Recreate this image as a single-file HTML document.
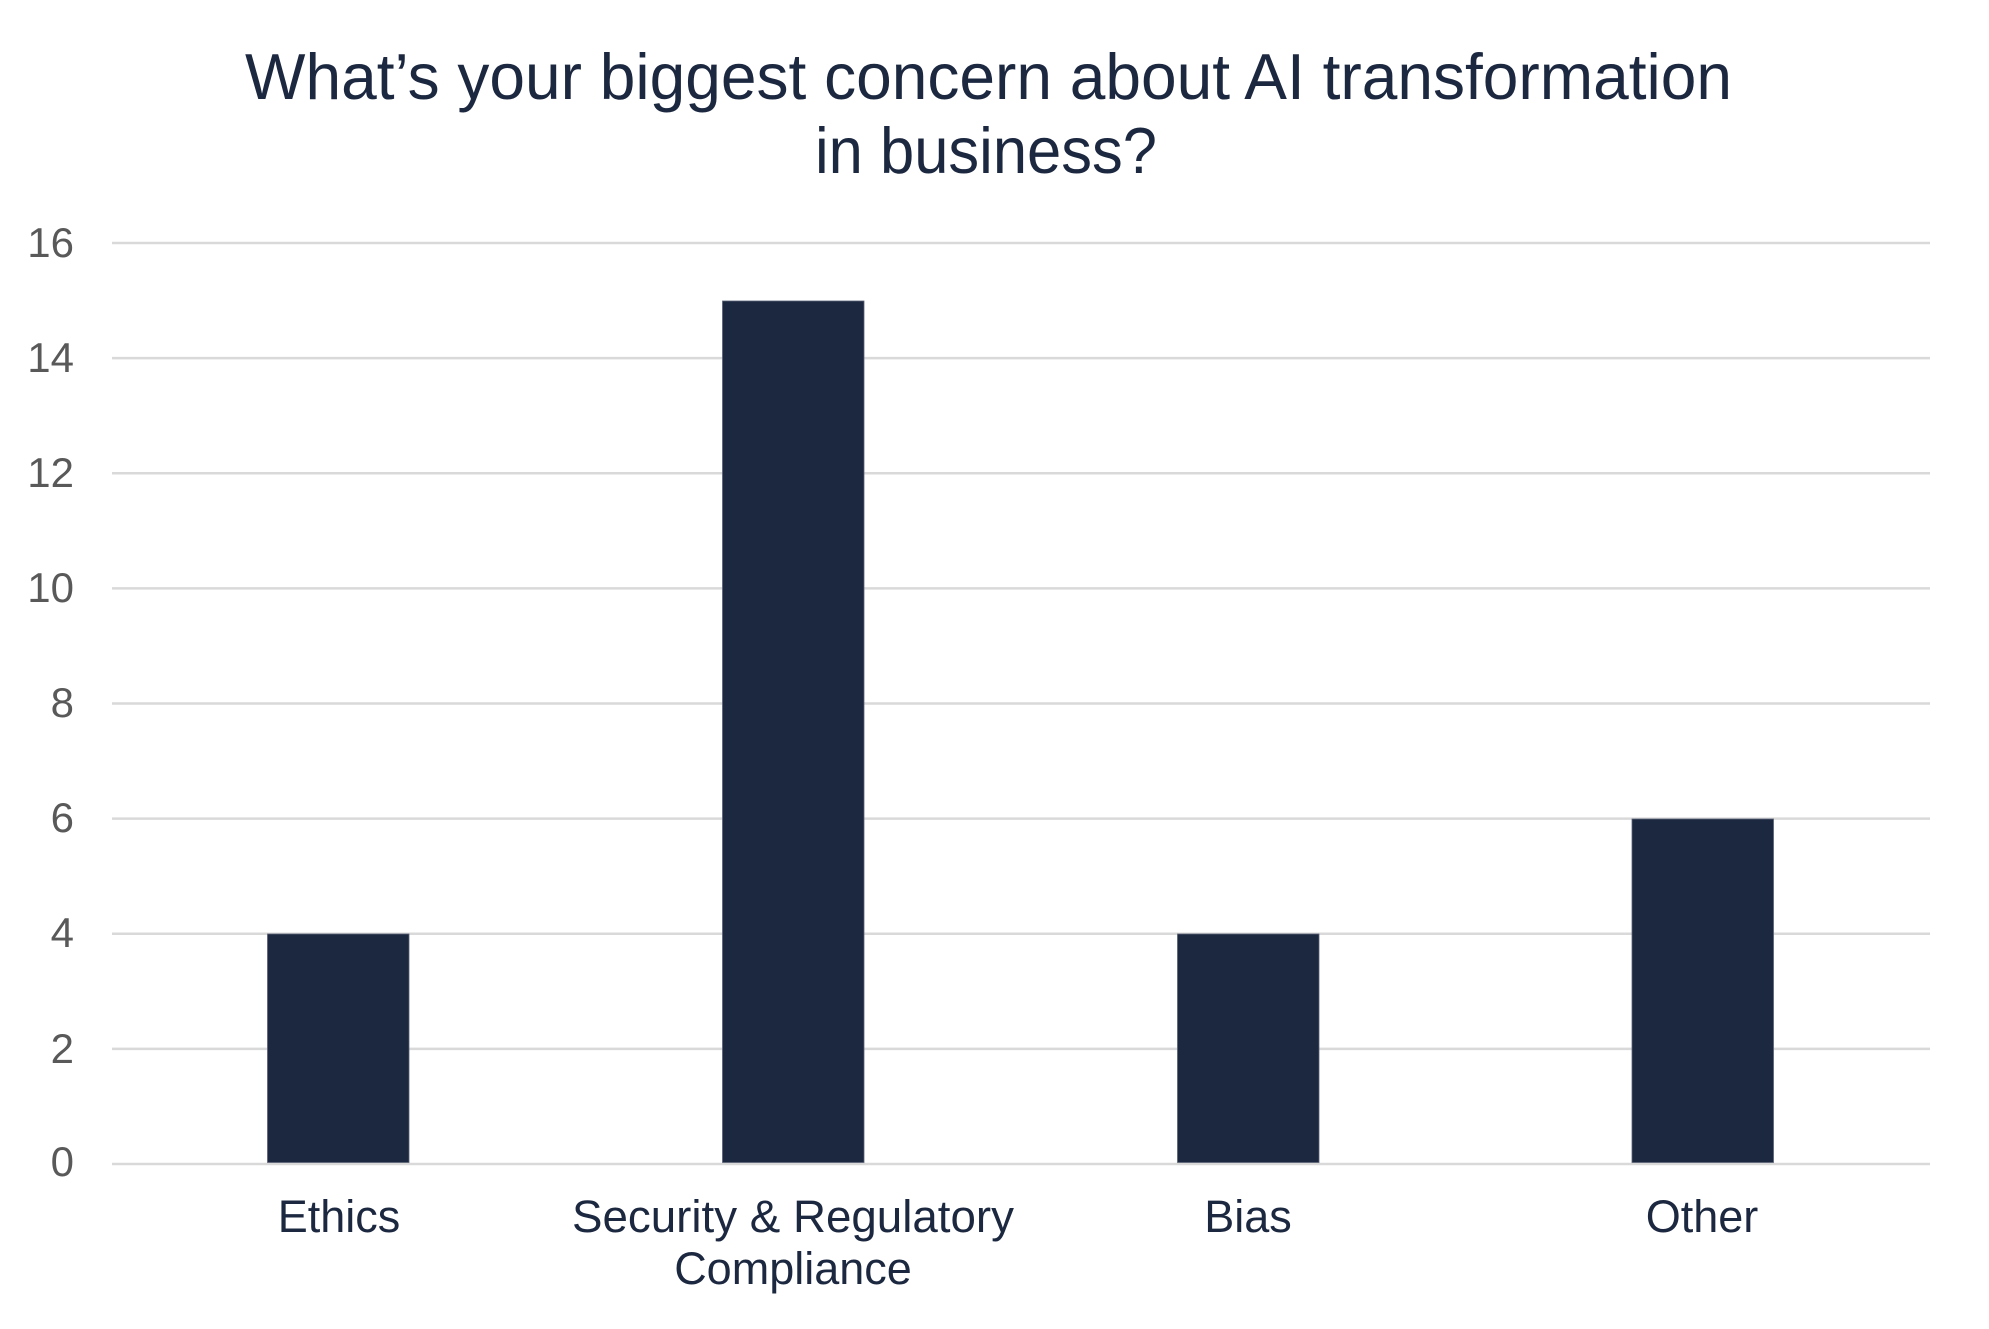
<!DOCTYPE html>
<html>
<head>
<meta charset="utf-8">
<style>
  html, body { margin: 0; padding: 0; background: #ffffff; }
  svg { display: block; }
  text { font-family: "Liberation Sans", Arial, sans-serif; }
</style>
</head>
<body>
<svg width="1989" height="1329" viewBox="0 0 1989 1329" xmlns="http://www.w3.org/2000/svg">
  <rect x="0" y="0" width="1989" height="1329" fill="#ffffff"/>

  <!-- Title -->
  <text x="245" y="99" font-size="65" fill="#1c2840" textLength="1487" lengthAdjust="spacingAndGlyphs">What’s your biggest concern about AI transformation</text>
  <text x="815" y="173" font-size="65" fill="#1c2840" textLength="342" lengthAdjust="spacingAndGlyphs">in business?</text>

  <!-- Gridlines -->
  <g stroke="#d9d9d9" stroke-width="2.5">
    <line x1="112" y1="243" x2="1930" y2="243"/>
    <line x1="112" y1="358.1" x2="1930" y2="358.1"/>
    <line x1="112" y1="473.3" x2="1930" y2="473.3"/>
    <line x1="112" y1="588.4" x2="1930" y2="588.4"/>
    <line x1="112" y1="703.5" x2="1930" y2="703.5"/>
    <line x1="112" y1="818.6" x2="1930" y2="818.6"/>
    <line x1="112" y1="933.8" x2="1930" y2="933.8"/>
    <line x1="112" y1="1048.9" x2="1930" y2="1048.9"/>
    <line x1="112" y1="1164" x2="1930" y2="1164"/>
  </g>

  <!-- Y tick labels -->
  <g font-size="42" fill="#595959" text-anchor="end">
    <text x="74" y="257">16</text>
    <text x="74" y="372">14</text>
    <text x="74" y="487">12</text>
    <text x="74" y="602">10</text>
    <text x="74" y="717">8</text>
    <text x="74" y="832">6</text>
    <text x="74" y="947">4</text>
    <text x="74" y="1063">2</text>
    <text x="74" y="1176">0</text>
  </g>

  <!-- Bars -->
  <g fill="#1c2740" stroke="#5a6275" stroke-width="0.8">
    <rect x="267.5" y="934" width="141.5" height="228.5"/>
    <rect x="722.5" y="301" width="141.5" height="861.5"/>
    <rect x="1177.5" y="934" width="141.5" height="228.5"/>
    <rect x="1632" y="819" width="141.5" height="343.5"/>
  </g>

  <!-- Category labels -->
  <g font-size="45" fill="#1c2840" text-anchor="middle">
    <text x="339" y="1232">Ethics</text>
    <text x="793" y="1232" textLength="442" lengthAdjust="spacingAndGlyphs">Security &amp; Regulatory</text>
    <text x="793" y="1284">Compliance</text>
    <text x="1248" y="1232">Bias</text>
    <text x="1702" y="1232">Other</text>
  </g>
</svg>
</body>
</html>
